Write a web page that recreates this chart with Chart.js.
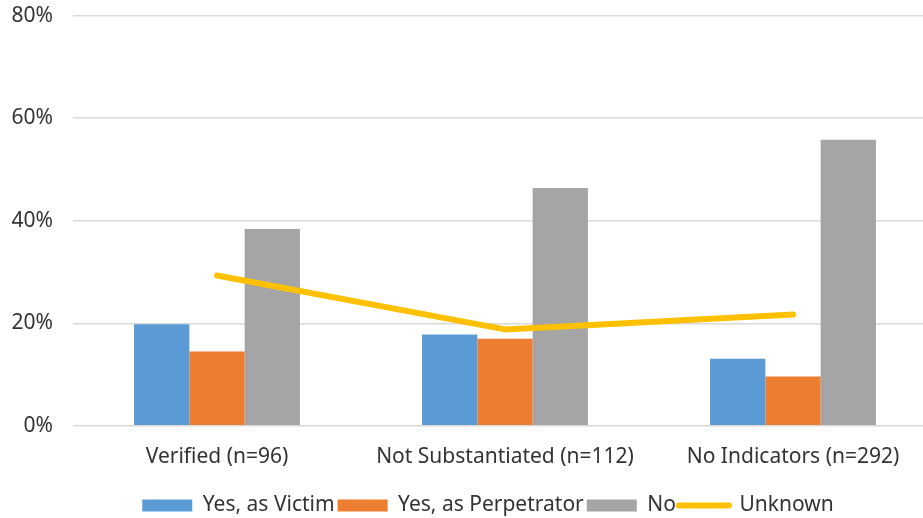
<!DOCTYPE html>
<html>
<head>
<meta charset="utf-8">
<script src="https://cdn.jsdelivr.net/npm/chart.js@4/dist/chart.umd.min.js"></script>
<style>
  html, body { margin: 0; padding: 0; background: #fff; overflow: hidden; }
  #wrap { width: 923px; height: 518px; overflow: hidden; }
</style>
</head>
<body>
<div id="wrap">
  <canvas id="chart" width="976" height="518"></canvas>
</div>
<script>
const categories = ['Verified (n=96)', 'Not Substantiated (n=112)', 'No Indicators (n=292)'];
const victim = [19.8, 17.8, 13.1];
const perpetrator = [14.5, 17.0, 9.6];
const noValues = [38.4, 46.4, 55.8];
const unknown = [29.3, 18.8, 21.7];
const yTicks = [0, 20, 40, 60, 80];

const ctx = document.getElementById('chart').getContext('2d');
const font = {family: '"Noto Sans", sans-serif', size: 21};

// legend sits centred on the whole chart and a bit lower in the original
const legendShift = {
    id: 'legendShift',
    afterLayout(chart) {
        const lg = chart.legend;
        lg.left += 14.5;
        lg.right += 14.5;
        lg.top += 11;
        lg.bottom += 11;
    }
};

new Chart(ctx, {
    type: 'bar',
    data: {
        labels: categories,
        datasets: [
            {label: 'Yes, as Victim', data: victim, backgroundColor: '#5B9BD5', borderWidth: 0, order: 1},
            {label: 'Yes, as Perpetrator', data: perpetrator, backgroundColor: '#ED7D31', borderWidth: 0, order: 1},
            {label: 'No', data: noValues, backgroundColor: '#A5A5A5', borderWidth: 0, order: 1},
            {
                type: 'line', label: 'Unknown', data: unknown,
                borderColor: '#FFC000', backgroundColor: '#FFC000',
                borderWidth: 6, borderCapStyle: 'round', borderJoinStyle: 'round',
                pointRadius: 0, tension: 0, order: 0
            }
        ]
    },
    plugins: [legendShift],
    options: {
        responsive: false,
        animation: false,
        layout: {padding: {left: 10, right: 39, top: 0, bottom: 3}},
        datasets: {bar: {categoryPercentage: 0.576, barPercentage: 1}},
        scales: {
            x: {
                grid: {display: false},
                border: {display: false},
                ticks: {font: font, color: '#333333', padding: 11}
            },
            y: {
                min: 0, max: 80,
                afterBuildTicks: (axis) => { axis.ticks = yTicks.map(v => ({value: v})); },
                afterFit: (axis) => { axis.width = 63; },
                grid: {color: '#D9D9D9', lineWidth: 1.5, tickLength: 17, tickColor: 'rgba(0,0,0,0)'},
                border: {display: false},
                ticks: {font: font, color: '#333333', padding: 3, callback: (v) => v + '%'}
            }
        },
        plugins: {
            tooltip: {enabled: false},
            legend: {
                position: 'bottom',
                labels: {
                    font: font,
                    color: '#333333',
                    usePointStyle: true,
                    pointStyleWidth: 50,
                    boxHeight: 12,
                    padding: 3,
                    sort: (a, b) => a.datasetIndex - b.datasetIndex,
                    generateLabels: (chart) => {
                        const items = Chart.defaults.plugins.legend.labels.generateLabels(chart);
                        items.forEach(item => {
                            const ds = chart.data.datasets[item.datasetIndex];
                            if (ds.type === 'line') {
                                item.pointStyle = 'line';
                                item.lineWidth = 6;
                                item.lineCap = 'round';
                                item.strokeStyle = '#FFC000';
                            } else {
                                item.pointStyle = 'rect';
                                item.lineWidth = 0;
                            }
                        });
                        return items;
                    }
                }
            }
        }
    }
});
</script>
</body>
</html>
